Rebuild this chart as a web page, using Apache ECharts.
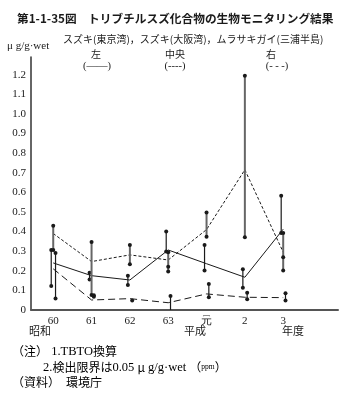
<!DOCTYPE html>
<html>
<head>
<meta charset="utf-8">
<script src="https://cdn.jsdelivr.net/npm/echarts@6/dist/echarts.min.js"></script>
<style>
  html, body { margin: 0; padding: 0; background: #fff; }
  #chart { width: 343px; height: 393px; }
</style>
</head>
<body>
<div id="chart"></div>
<script>
// Fiscal years (Showa 60 – Heisei 3)
const years = ['60', '61', '62', '63', '元', '2', '3'];
const yTicks = [0, 0.1, 0.2, 0.3, 0.4, 0.5, 0.6, 0.7, 0.8, 0.9, 1.0, 1.1, 1.2];

// Mean concentrations (μg/g wet, as TBTO)
const tokyoMean  = [0.240, 0.175, 0.153, 0.306, 0.236, 0.167, 0.412];
const osakaMean  = [0.390, 0.247, 0.281, 0.255, 0.410, 0.715, 0.295];
const musselMean = [0.210, 0.051, 0.058, 0.037, 0.082, 0.065, 0.063];

// Individual sample values per year (0 = below detection limit)
const tokyoSamples  = [[0.123, 0.306], [0.155, 0.19], [0.128, 0.174], [0.298, 0.40], [0.201, 0.332], [0.114, 0.208], [0.392, 0.582]];
const osakaSamples  = [[0.306, 0.43], [0.077, 0.347], [0.233, 0.332], [0.196, 0.221, 0.295], [0.374, 0.497], [0.371, 1.195], [0.201, 0.269, 0.392]];
const musselSamples = [[0.058, 0.29], [0.068, 0.075], [0.048], [0, 0.071], [0.065, 0.133], [0.055, 0.088], [0.048, 0.085]];

const INK = '#1a1a1a';
const SERIF = '"Liberation Serif", "DejaVu Serif", serif';
const JP = '"Noto Sans CJK JP", sans-serif';

// Vertical range bar with a dot at every sample
function rangeSeries(name, samples, dx, stroke, width) {
  return {
    name: name,
    type: 'custom',
    silent: true,
    z: 4,
    encode: { x: 0, y: [1, 2] },
    data: samples.map((s, i) => [i, Math.min.apply(null, s), Math.max.apply(null, s)]),
    renderItem: function (params, api) {
      const i = api.value(0);
      const s = samples[params.dataIndex];
      const p0 = api.coord([i, api.value(1)]);
      const p1 = api.coord([i, api.value(2)]);
      const x = p0[0] + dx;
      const children = [];
      if (s.length > 1) {
        children.push({
          type: 'line',
          shape: { x1: x, y1: p0[1], x2: x, y2: p1[1] },
          style: { stroke: stroke, lineWidth: width }
        });
      }
      s.forEach(function (v) {
        if (v > 0) {
          children.push({
            type: 'circle',
            shape: { cx: x, cy: api.coord([i, v])[1], r: 2 },
            style: { fill: INK }
          });
        }
      });
      return { type: 'group', children: children };
    }
  };
}

function meanSeries(name, values, dash) {
  return {
    name: name,
    type: 'line',
    silent: true,
    z: 3,
    showSymbol: false,
    data: values.map((v, i) => [i, v]),
    lineStyle: { color: INK, width: 1, type: dash }
  };
}

function centered(text, x, y, font) {
  return { type: 'text', x: x, y: y, style: { text: text, font: font, fill: INK, align: 'center', verticalAlign: 'middle' } };
}

const jpSmall = '10px ' + JP;
const noteRich = {
  j: { fontFamily: JP, fontSize: 12, color: INK },
  l: { fontFamily: SERIF, fontSize: 12.5, color: INK },
  s: { fontFamily: SERIF, fontSize: 7.5, color: INK }
};

const chart = echarts.init(document.getElementById('chart'), null, { renderer: 'canvas' });

chart.setOption({
  animation: false,
  backgroundColor: '#ffffff',
  grid: { left: 31, right: 5, top: 57, bottom: 83 },
  xAxis: {
    type: 'value',
    min: -0.58,
    max: 7.43,
    splitLine: { show: false },
    axisTick: { show: false },
    axisLine: { show: true, onZero: false, lineStyle: { color: '#555', width: 2 } },
    axisLabel: {
      customValues: years.map((_, i) => i),
      formatter: v => years[v],
      margin: 6,
      color: INK,
      fontFamily: SERIF,
      fontSize: 11
    }
  },
  yAxis: {
    type: 'value',
    min: 0,
    max: 1.29,
    splitLine: { show: false },
    axisTick: { show: false },
    axisLine: { show: true, onZero: false, lineStyle: { color: '#333', width: 1.5 } },
    axisLabel: {
      customValues: yTicks,
      formatter: v => (v === 0 ? '0' : v.toFixed(1)),
      margin: 5,
      color: INK,
      fontFamily: SERIF,
      fontSize: 11
    }
  },
  series: [
    meanSeries('スズキ(東京湾)', tokyoMean, 'solid'),
    meanSeries('スズキ(大阪湾)', osakaMean, [3, 2]),
    meanSeries('ムラサキガイ(三浦半島)', musselMean, [7, 4]),
    rangeSeries('東京湾', tokyoSamples, -2, INK, 1.2),
    rangeSeries('大阪湾', osakaSamples, 0, '#666', 2),
    rangeSeries('三浦半島', musselSamples, 2.3, INK, 1.2)
  ],
  graphic: [
    { type: 'text', left: 17, top: 13, style: { text: '第1-1-35図', font: 'bold 11.7px ' + JP, fill: INK } },
    { type: 'text', left: 88, top: 13, style: { text: 'トリブチルスズ化合物の生物モニタリング結果', font: 'bold 11.7px ' + JP, fill: INK } },
    { type: 'text', left: 7, top: 41, style: { text: 'μ g/g·wet', font: '11px ' + SERIF, fill: INK } },
    { type: 'text', left: 63, top: 34, style: { text: 'スズキ(東京湾)，スズキ(大阪湾)，ムラサキガイ(三浦半島)', font: jpSmall, fill: INK } },
    centered('左', 96, 54, jpSmall),
    centered('中央', 175, 54, jpSmall),
    centered('右', 271, 54, jpSmall),
    centered('(——)', 97, 66, '10.5px ' + SERIF),
    centered('(----)', 175, 66, '10.5px ' + SERIF),
    centered('(- - -)', 277, 66, '10.5px ' + SERIF),
    centered('昭和', 40, 331, '11px ' + JP),
    centered('平成', 195, 331, '11px ' + JP),
    centered('年度', 293, 331, '11px ' + JP),
    {
      type: 'text', left: 12, top: 345,
      style: { text: '{j|（注）}{l| 1.TBTO}{j|換算}', rich: noteRich }
    },
    {
      type: 'text', left: 43, top: 361,
      style: { text: '{l|2.}{j|検出限界は}{l|0.05 }{j|μ}{l| g/g·wet }{j|（}{s|ppm}{j|）}', rich: noteRich }
    },
    {
      type: 'text', left: 12, top: 376,
      style: { text: '{j|（資料）　環境庁}', rich: noteRich }
    }
  ]
});
</script>
</body>
</html>
